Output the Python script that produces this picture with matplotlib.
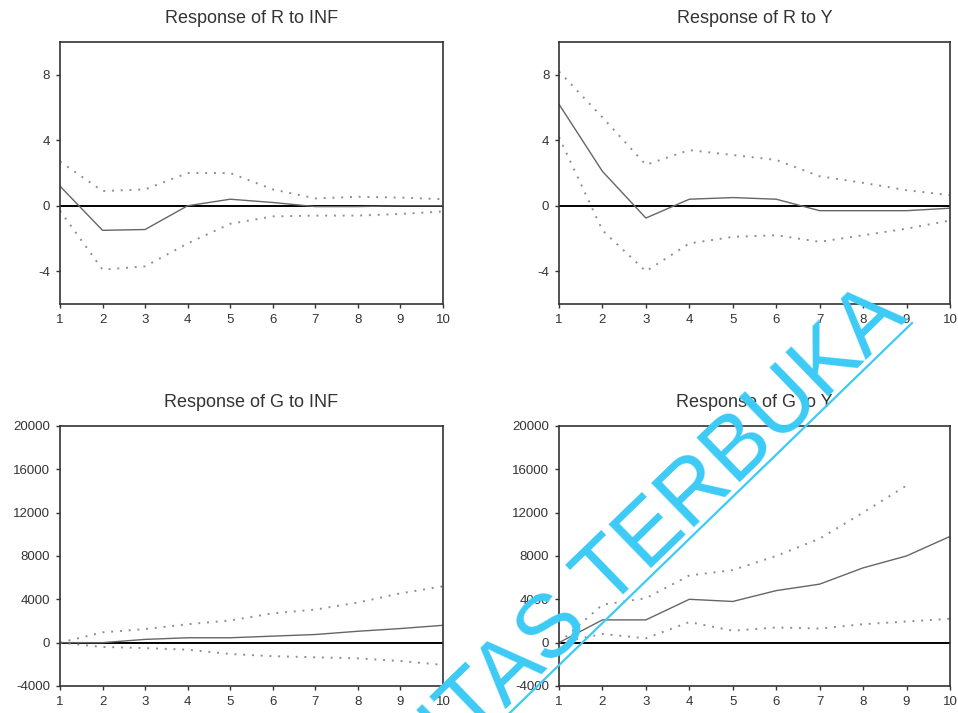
import numpy as np
import matplotlib
matplotlib.use("Agg")
import matplotlib.pyplot as plt
from matplotlib.lines import Line2D

plt.rcParams['font.family'] = ['Liberation Sans', 'DejaVu Sans']
plt.rcParams['axes.unicode_minus'] = False

#Impulse responses, periods 1..10 (response, +2 SE, -2 SE)
periods = np.arange(1, 11)

r_inf = [1.2, -1.5, -1.45, 0.0, 0.4, 0.2, -0.05, -0.05, 0.0, 0.0]
r_inf_hi = [2.7, 0.9, 1.0, 2.0, 2.0, 1.0, 0.45, 0.55, 0.5, 0.4]
r_inf_lo = [-0.3, -3.9, -3.7, -2.3, -1.1, -0.65, -0.6, -0.6, -0.5, -0.35]

r_y = [6.2, 2.1, -0.75, 0.4, 0.5, 0.4, -0.3, -0.3, -0.3, -0.15]
r_y_hi = [8.2, 5.4, 2.5, 3.4, 3.1, 2.8, 1.8, 1.4, 0.95, 0.65]
r_y_lo = [4.2, -1.5, -4.0, -2.3, -1.9, -1.8, -2.2, -1.8, -1.4, -0.9]

g_inf = [0, 0, 300, 450, 450, 600, 750, 1050, 1300, 1600]
g_inf_hi = [0, 950, 1250, 1700, 2050, 2700, 3050, 3700, 4550, 5200]
g_inf_lo = [0, -400, -500, -650, -1050, -1250, -1350, -1450, -1700, -2050]

g_y = [0, 2100, 2100, 4000, 3800, 4800, 5400, 6900, 8000, 9800]
g_y_hi = [0, 3500, 4100, 6200, 6700, 8000, 9600, 12000, 14500, np.nan]
g_y_lo = [0, 800, 400, 1900, 1100, 1400, 1300, 1700, 1950, 2200]

titles = ["Response of R to INF", "Response of R to Y",
          "Response of G to INF", "Response of G to Y"]

fig = plt.figure(figsize=(9.58, 7.13), dpi=100)

boxes = [[0.0626, 0.5736, 0.3998, 0.3675],
         [0.5835, 0.5736, 0.4081, 0.3675],
         [0.0626, 0.0379, 0.3998, 0.3647],
         [0.5835, 0.0379, 0.4081, 0.3647]]
series = [(r_inf, r_inf_hi, r_inf_lo), (r_y, r_y_hi, r_y_lo),
          (g_inf, g_inf_hi, g_inf_lo), (g_y, g_y_hi, g_y_lo)]

for i in range(4):
    ax = fig.add_axes(boxes[i])
    resp, hi, lo = series[i]
    ax.axhline(0, color="black", lw=1.4, zorder=1)
    ax.plot(periods, hi, ls=(0, (1, 3.5)), color="#8f8f8f", lw=1.4)
    ax.plot(periods, lo, ls=(0, (1, 3.5)), color="#8f8f8f", lw=1.4)
    ax.plot(periods, resp, color="#666666", lw=1.0)
    ax.set_xlim(1, 10)
    ax.set_xticks(periods)
    if i < 2:
        ax.set_ylim(-6, 10)
        ax.set_yticks([-4, 0, 4, 8])
    else:
        ax.set_ylim(-4000, 20000)
        ax.set_yticks(range(-4000, 20001, 4000))
    ax.set_title(titles[i], fontsize=13, color="#333333", pad=14)
    ax.tick_params(direction="out", length=3, width=1, labelsize=9.5,
                   colors="#333333", pad=4)
    for s in ax.spines.values():
        s.set_color("#333333")
        s.set_linewidth(1.2)

#watermark
wm_color = "#3ccbf6"
fig.text(0.9482, 0.553, "UNIVERSITAS TERBUKA", color=wm_color, fontsize=64,
         rotation=44.1, rotation_mode="anchor", ha="right", va="baseline",
         zorder=10)
fig.add_artist(Line2D([0.532, 0.952], [0.0, 0.547], transform=fig.transFigure,
                      color=wm_color, lw=1.6, zorder=10))

plt.savefig("out.png", dpi=100)
